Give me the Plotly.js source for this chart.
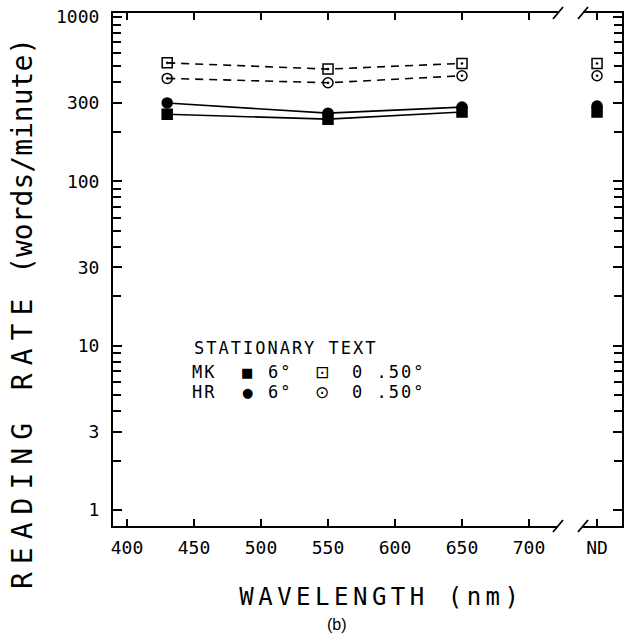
<!DOCTYPE html>
<html>
<head>
<meta charset="utf-8">
<script src="https://cdn.plot.ly/plotly-3.0.1.min.js"></script>
<style>
  html, body { margin: 0; padding: 0; background: #fff; }
  #chart { width: 630px; height: 642px; }
  g.annotation[data-index="1"] text { letter-spacing: 4.5px; }
  g.annotation[data-index="2"] text { letter-spacing: 2px; }
  g.annotation[data-index="3"] text, g.annotation[data-index="4"] text { letter-spacing: 2px; }
  g.annotation[data-index="7"] text, g.annotation[data-index="8"] text,
  g.annotation[data-index="11"] text, g.annotation[data-index="12"] text { letter-spacing: 2px; }
</style>
</head>
<body>
<div id="chart"></div>
<script>
// ---- data ----
const wavelengths = [430, 550, 650];
const mk6 = [256, 239, 264];
const hr6 = [300, 260, 283];
const mk05 = [526, 482, 522];
const hr05 = [423, 398, 439];
const ndCategory = ['ND'];
const mk6ND = [264];
const hr6ND = [287];
const mk05ND = [522];
const hr05ND = [439];
const xTickVals = [400, 450, 500, 550, 600, 650, 700];
const yTickVals = [1, 3, 10, 30, 100, 300, 1000];
const yTickText = ['1', '3', '10', '30', '100', '300', '1000'];
const yMinorVals = [2,4,5,6,7,8,9,20,40,50,60,70,80,90,200,400,500,600,700,800,900];

// ---- geometry helpers (plot frame in pixels) ----
const L = 113, R = 622, T = 13, B = 526;
const px = p => (p - L) / (R - L);
const py = p => (B - p) / (B - T);

const MONO = 'DejaVu Sans Mono';
const black = '#000';

function tr(x, y, xa, ya, symbol, filled, dashed) {
  return {
    x: x, y: y, xaxis: xa, yaxis: ya, type: 'scatter',
    mode: 'lines+markers', showlegend: false, hoverinfo: 'skip',
    line: { color: black, width: 1.6, dash: dashed ? '8px,6px' : 'solid' },
    marker: { symbol: symbol, size: 10, color: black,
              line: { color: black, width: 1.5 } }
  };
}

const data = [
  tr(wavelengths, mk6, 'x', 'y', 'square', true, false),
  tr(wavelengths, hr6, 'x', 'y', 'circle', true, false),
  tr(wavelengths, mk05, 'x', 'y', 'square-open-dot', false, true),
  tr(wavelengths, hr05, 'x', 'y', 'circle-open-dot', false, true),
  tr(ndCategory, mk6ND, 'x2', 'y2', 'square', true, false),
  tr(ndCategory, hr6ND, 'x2', 'y2', 'circle', true, false),
  tr(ndCategory, mk05ND, 'x2', 'y2', 'square-open-dot', false, true),
  tr(ndCategory, hr05ND, 'x2', 'y2', 'circle-open-dot', false, true)
];

const yCommon = {
  type: 'log', range: [Math.log10(0.8), 3.0243], domain: [0, 1],
  showgrid: false, zeroline: false, showline: true, linecolor: black, linewidth: 2,
  ticks: 'inside', ticklen: 9, tickwidth: 2, tickcolor: black,
  tickmode: 'array', tickvals: yTickVals, ticktext: yTickText,
  minor: { tickmode: 'array', tickvals: yMinorVals, ticks: 'inside', ticklen: 8,
           tickwidth: 2, tickcolor: black, showgrid: false },
  tickfont: { family: MONO, size: 18, color: black }
};

const xCommon = {
  showgrid: false, zeroline: false, showline: true, linecolor: black, linewidth: 2,
  mirror: 'ticks', ticks: 'inside', ticklen: 7, tickwidth: 2, tickcolor: black,
  tickfont: { family: MONO, size: 18, color: black }, ticklabelstandoff: 4
};

const x1End = px(558), x2Start = px(583);

const ann = (text, xp, yp, size, family, extra) => Object.assign({
  text: text, xref: 'paper', yref: 'paper', x: px(xp), y: py(yp), showarrow: false,
  xanchor: 'center', yanchor: 'middle', font: { family: family || MONO, size: size, color: black }
}, extra || {});

const layout = {
  width: 630, height: 642,
  margin: { l: L, r: 630 - R, t: T, b: 642 - B, pad: 0 },
  paper_bgcolor: '#fff', plot_bgcolor: '#fff',
  showlegend: false,
  xaxis: Object.assign({}, xCommon, {
    domain: [0, x1End], anchor: 'y', range: [389.55, 400 + (558 - 127) / 1.34],
    tickmode: 'array', tickvals: xTickVals, ticktext: xTickVals.map(String)
  }),
  xaxis2: Object.assign({}, xCommon, {
    domain: [x2Start, 1], anchor: 'y2', type: 'category', range: [-0.36, 0.64],
    tickmode: 'array', tickvals: ndCategory, ticktext: ndCategory
  }),
  yaxis: Object.assign({}, yCommon, { anchor: 'x', side: 'left', ticklabelstandoff: 8 }),
  yaxis2: Object.assign({}, yCommon, { anchor: 'x2', side: 'right', showticklabels: false }),
  shapes: [
    [553, 19, 563, 7], [578, 19, 588, 7],
    [553, 532, 563, 520], [578, 532, 588, 520]
  ].map(s => ({
    type: 'line', xref: 'paper', yref: 'paper',
    x0: px(s[0]), y0: py(s[1]), x1: px(s[2]), y1: py(s[3]),
    line: { color: black, width: 1.8 }
  })),
  annotations: [
    ann('<span style="letter-spacing:8px">READING RATE</span> (words/minute)', 22, 314, 28, MONO, { textangle: -90 }),
    ann('WAVELENGTH (nm)', 381, 597, 24),
    ann('STATIONARY TEXT', 286, 348, 17),
    ann('MK', 204, 372, 17),
    ann('HR', 204, 392, 17),
    ann('■', 247, 372, 13, 'DejaVu Sans'),
    ann('●', 247, 392, 13, 'DejaVu Sans'),
    ann('6°', 280, 372, 17),
    ann('6°', 280, 392, 17),
    ann('⊡', 322, 372, 17, 'DejaVu Sans'),
    ann('⊙', 322, 392, 17, 'DejaVu Sans'),
    ann('0 .50°', 388, 372, 17),
    ann('0 .50°', 388, 392, 17),
    ann('(b)', 337, 624, 16, 'Liberation Sans')
  ]
};

Plotly.newPlot('chart', data, layout, { staticPlot: true, displayModeBar: false });
</script>
</body>
</html>
